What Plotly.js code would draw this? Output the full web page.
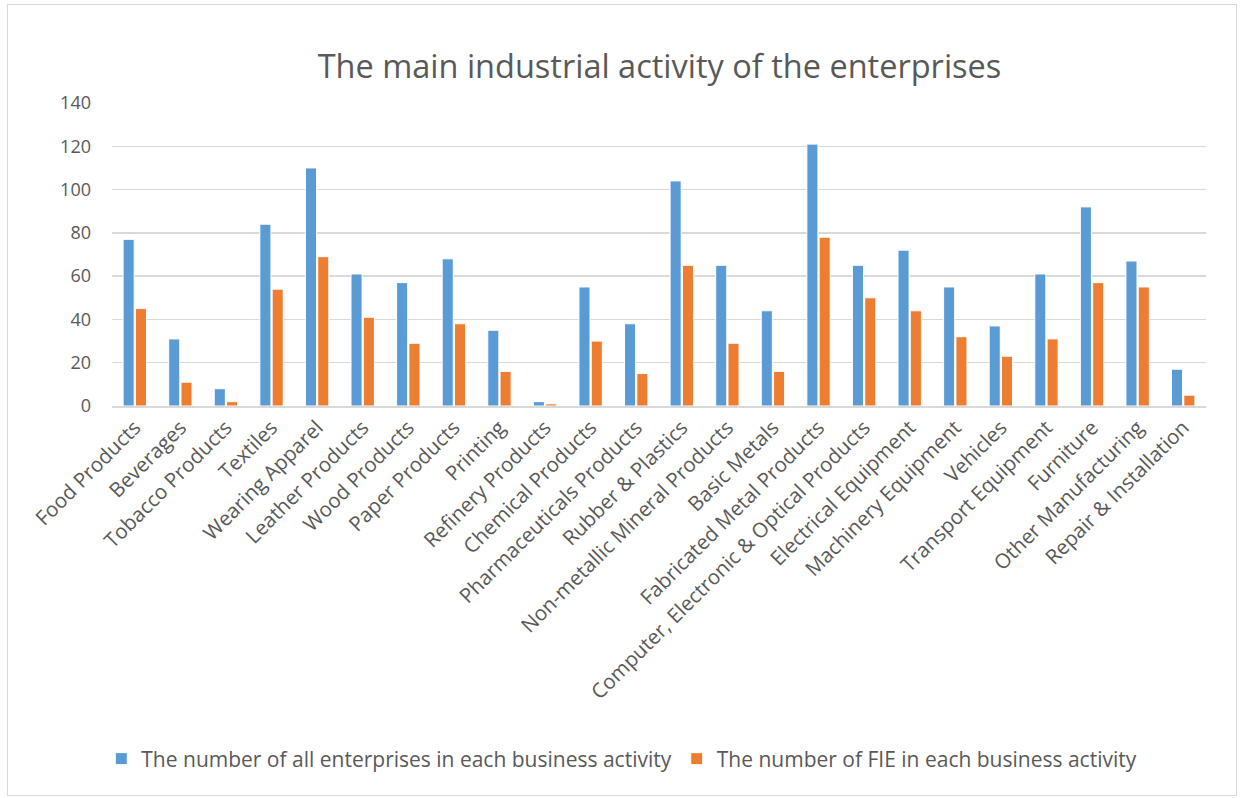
<!DOCTYPE html>
<html><head><meta charset="utf-8">
<script src="https://cdn.plot.ly/plotly-3.0.1.min.js"></script>
<style>
html,body{margin:0;padding:0;background:#fff;}
#chart{width:1242px;height:798px;}
#frame{position:absolute;left:7px;top:4px;width:1228px;height:790px;border:1px solid #d9d9d9;pointer-events:none;}
</style></head>
<body>
<div id="chart"></div>
<div id="frame"></div>
<script>
const categories = ["Food Products","Beverages","Tobacco Products","Textiles","Wearing Apparel","Leather Products","Wood Products","Paper Products","Printing","Refinery Products","Chemical Products","Pharmaceuticals Products","Rubber & Plastics","Non-metallic Mineral Products","Basic Metals","Fabricated Metal Products","Computer, Electronic & Optical Products","Electrical Equipment","Machinery Equipment","Vehicles","Transport Equipment","Furniture","Other Manufacturing","Repair & Installation"];
const allEnterprises = [77,31,8,84,110,61,57,68,35,2,55,38,104,65,44,121,65,72,55,37,61,92,67,17];
const fieEnterprises = [45,11,2,54,69,41,29,38,16,1,30,15,65,29,16,78,50,44,32,23,31,57,55,5];
const seriesNames = ["The number of all enterprises in each business activity","The number of FIE in each business activity"];
const yTicks = [0,20,40,60,80,100,120,140];

const font = "Open Sans, Liberation Sans, sans-serif";
const data = [
  {type:"bar", x:categories, y:allEnterprises, name:seriesNames[0],
   marker:{color:"#5b9bd5", line:{color:"#ffffff", width:1}}},
  {type:"bar", x:categories, y:fieEnterprises, name:seriesNames[1],
   marker:{color:"#ed7d31", line:{color:"#ffffff", width:1}}}
];
const layout = {
  width:1242, height:798,
  margin:{l:112, r:36, t:103, b:392},
  paper_bgcolor:"#fff", plot_bgcolor:"#fff",
  title:{text:"The main industrial activity of the enterprises", x:0.531, xanchor:"center", y:0.916, yanchor:"middle",
         font:{family:font, size:32.5, color:"#595959"}},
  barmode:"group", bargap:0.46, bargroupgap:0.1,
  xaxis:{tickangle:-45, automargin:false, tickfont:{family:font, size:20.5, color:"#595959"},
         showgrid:false, showline:true, linecolor:"#d9d9d9", linewidth:1.5, ticks:""},
  yaxis:{range:[0,140], tickvals:yTicks, automargin:false, tickfont:{family:font, size:18, color:"#595959"},
         gridcolor:"#d9d9d9", gridwidth:1.5, zeroline:false, showline:false, ticklen:0, ticklabelstandoff:20},
  legend:{orientation:"h", x:0.466, xanchor:"center", y:-1.165, yanchor:"middle",
          font:{family:font, size:21, color:"#595959"}, itemwidth:30, traceorder:"normal"},
  showlegend:true
};
Plotly.newPlot("chart", data, layout, {displayModeBar:false, staticPlot:true});
</script>
</body></html>
